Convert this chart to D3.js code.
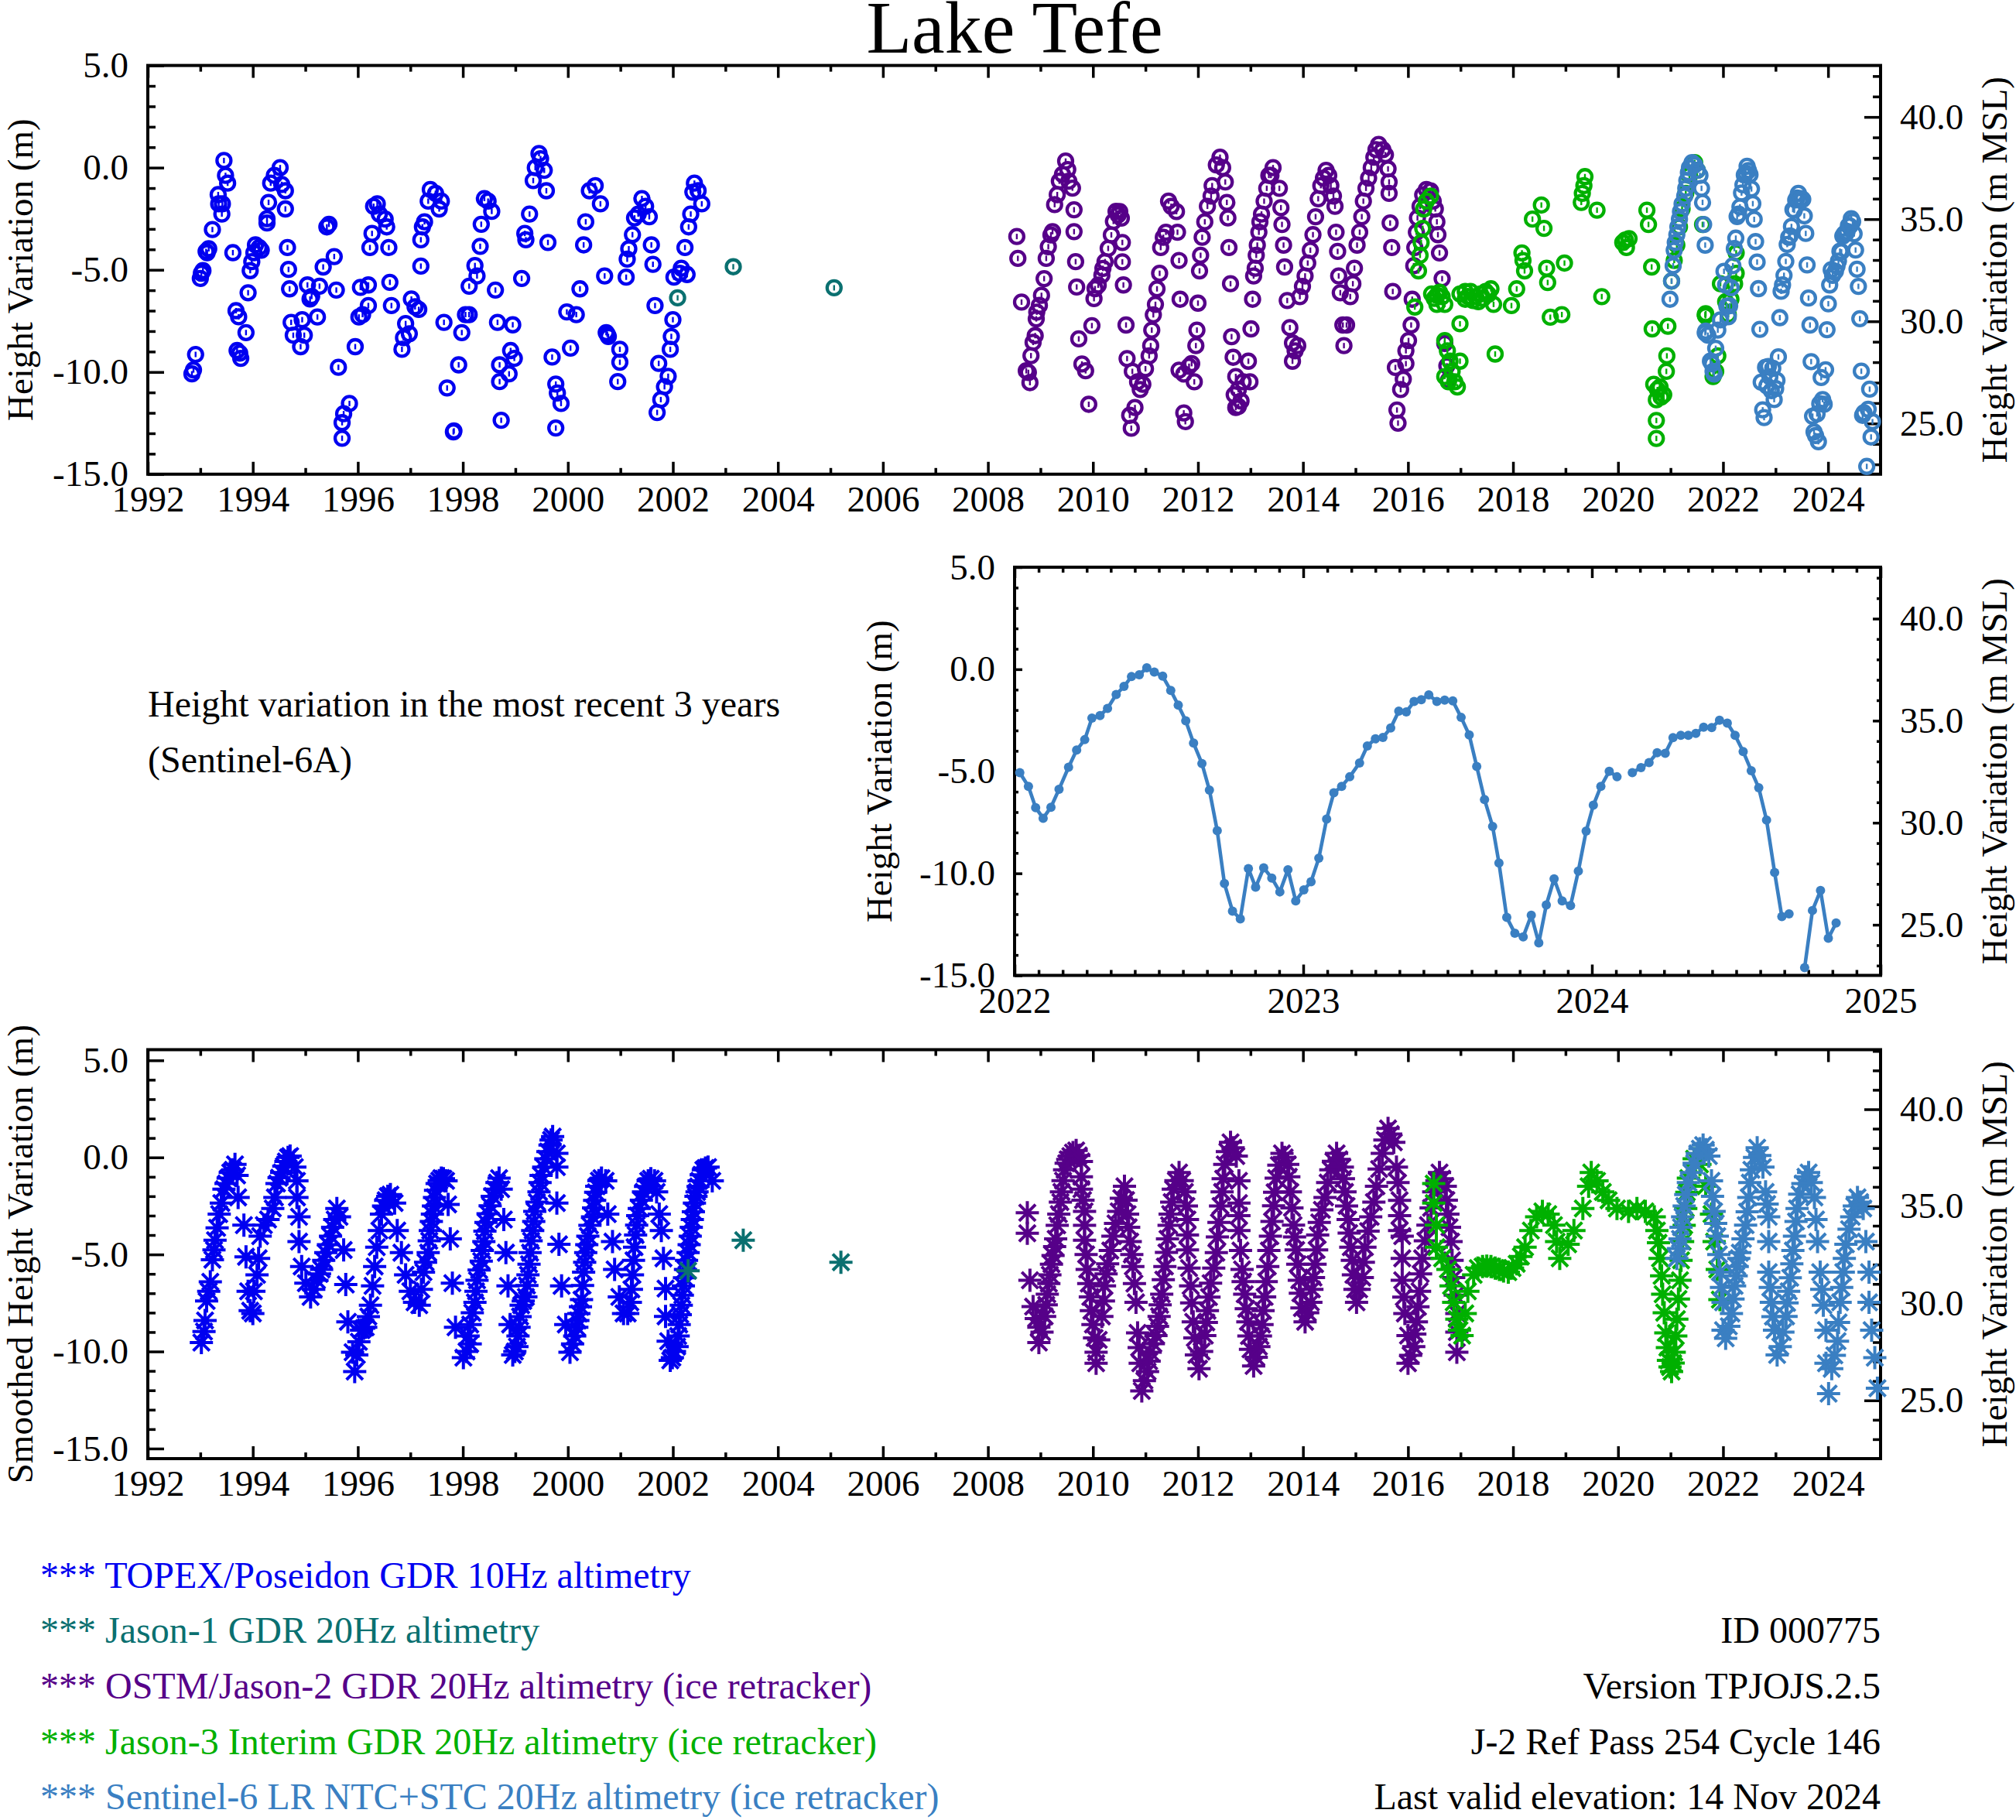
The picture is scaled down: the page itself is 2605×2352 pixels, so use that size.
<!DOCTYPE html>
<html><head><meta charset="utf-8">
<script src="https://cdn.jsdelivr.net/npm/d3@7"></script>
<style>body{margin:0;background:#fff;}</style>
</head><body>
<svg id="c" width="2605" height="2352"></svg>
<script>
// ---------------- DATA ----------------
const topexRaw = [[1992.84,-10.09],[1992.87,-9.90],[1992.91,-9.14],[1993.00,-5.42],[1993.02,-5.17],[1993.05,-5.04],[1993.11,-4.10],[1993.13,-4.16],[1993.16,-3.97],[1993.23,-3.03],[1993.34,-1.32],[1993.35,-1.77],[1993.42,-1.77],[1993.41,-2.27],[1993.45,0.35],[1993.48,-0.38],[1993.52,-0.76],[1993.62,-4.16],[1993.68,-7.00],[1993.73,-7.30],[1993.87,-8.07],[1993.70,-8.95],[1993.75,-9.08],[1993.77,-9.33],[1993.91,-6.12],[1993.95,-5.04],[1993.98,-4.60],[1994.02,-4.16],[1994.05,-3.78],[1994.12,-3.91],[1994.16,-4.04],[1994.27,-2.71],[1994.30,-1.70],[1994.27,-2.50],[1994.34,-0.76],[1994.41,-0.38],[1994.52,0.00],[1994.55,-0.82],[1994.62,-1.13],[1994.62,-2.02],[1994.66,-3.91],[1994.68,-4.98],[1994.70,-5.93],[1994.73,-7.57],[1994.77,-8.20],[1994.91,-8.76],[1994.98,-8.20],[1994.94,-7.44],[1995.04,-5.74],[1995.09,-6.43],[1995.12,-6.30],[1995.23,-7.31],[1995.27,-5.80],[1995.34,-4.86],[1995.55,-4.35],[1995.59,-5.99],[1995.41,-2.90],[1995.45,-2.77],[1995.63,-9.77],[1995.70,-13.24],[1995.73,-12.04],[1995.84,-11.54],[1995.70,-12.48],[1995.95,-8.76],[1996.02,-7.31],[1996.09,-7.19],[1996.20,-6.75],[1996.05,-5.86],[1996.20,-5.74],[1996.23,-3.91],[1996.27,-3.22],[1996.30,-1.89],[1996.37,-1.77],[1996.41,-2.27],[1996.52,-2.52],[1996.55,-2.90],[1996.59,-3.91],[1996.61,-5.61],[1996.64,-6.75],[1996.84,-8.89],[1996.87,-8.32],[1996.91,-7.63],[1996.98,-8.13],[1997.02,-6.43],[1997.09,-6.81],[1997.16,-6.94],[1997.20,-3.53],[1997.23,-2.90],[1997.27,-2.65],[1997.34,-1.64],[1997.38,-1.07],[1997.48,-1.26],[1997.55,-2.02],[1997.59,-1.64],[1997.20,-4.82],[1997.64,-7.57],[1997.70,-10.78],[1997.82,-12.93],[1997.83,-12.88],[1997.92,-9.65],[1997.98,-8.07],[1998.05,-7.19],[1998.12,-7.19],[1998.12,-5.80],[1998.23,-4.79],[1998.27,-5.30],[1998.33,-3.85],[1998.35,-2.77],[1998.41,-1.51],[1998.48,-1.64],[1998.55,-2.14],[1998.62,-5.99],[1998.66,-7.57],[1998.95,-7.69],[1998.70,-9.65],[1998.70,-10.47],[1998.88,-10.09],[1998.91,-8.95],[1998.98,-9.33],[1998.73,-12.36],[1999.12,-5.42],[1999.20,-3.53],[1999.27,-2.27],[1999.18,-3.22],[1999.34,-0.63],[1999.38,0.00],[1999.45,0.69],[1999.48,0.44],[1999.55,-0.13],[1999.59,-1.13],[1999.62,-3.66],[1999.70,-9.27],[1999.77,-10.59],[1999.80,-11.03],[1999.87,-11.54],[1999.77,-12.74],[1999.98,-7.06],[2000.05,-8.83],[2000.16,-7.19],[2000.23,-5.93],[2000.30,-3.78],[2000.34,-2.65],[2000.41,-1.13],[2000.52,-0.88],[2000.62,-1.77],[2000.70,-5.30],[2000.73,-8.07],[2000.75,-8.15],[2000.77,-8.26],[2000.95,-10.47],[2000.99,-9.52],[2000.99,-8.89],[2001.11,-5.36],[2001.13,-4.48],[2001.16,-3.97],[2001.23,-3.28],[2001.27,-2.46],[2001.34,-2.27],[2001.41,-1.51],[2001.48,-1.89],[2001.55,-2.40],[2001.59,-3.78],[2001.62,-4.73],[2001.66,-6.75],[2001.70,-11.98],[2001.77,-11.35],[2001.84,-10.72],[2001.91,-10.21],[2001.73,-9.58],[2001.95,-8.89],[2001.97,-8.26],[2002.00,-7.44],[2002.02,-5.36],[2002.13,-5.17],[2002.16,-4.92],[2002.23,-3.91],[2002.27,-5.23],[2002.30,-2.90],[2002.34,-2.27],[2002.38,-1.20],[2002.41,-0.76],[2002.48,-1.13],[2002.55,-1.77]];

const jason1Raw = [[2002.09,-6.37],[2003.15,-4.85],[2005.07,-5.88]];

const jason2Raw = [[2008.55,-3.37],[2008.57,-4.44],[2008.64,-6.58],[2008.73,-9.94],[2008.77,-10.02],[2008.80,-10.52],[2008.82,-9.20],[2008.86,-8.55],[2008.90,-8.22],[2008.92,-7.40],[2008.93,-7.07],[2008.98,-6.74],[2009.02,-6.25],[2009.07,-5.43],[2009.11,-4.44],[2009.15,-3.87],[2009.20,-3.29],[2009.23,-3.13],[2009.27,-1.81],[2009.32,-1.32],[2009.36,-0.66],[2009.42,-0.33],[2009.48,0.32],[2009.52,-0.09],[2009.54,-0.66],[2009.61,-1.00],[2009.64,-2.06],[2009.64,-3.13],[2009.67,-4.60],[2009.69,-5.84],[2009.73,-8.38],[2009.79,-9.61],[2009.86,-9.94],[2009.92,-11.58],[2009.98,-7.73],[2010.02,-6.41],[2010.04,-5.92],[2010.10,-5.75],[2010.17,-5.26],[2010.19,-4.93],[2010.23,-4.60],[2010.29,-3.95],[2010.35,-3.29],[2010.39,-2.63],[2010.44,-2.14],[2010.48,-2.31],[2010.54,-2.47],[2010.51,-2.15],[2010.56,-3.66],[2010.56,-4.61],[2010.58,-5.74],[2010.63,-7.70],[2010.65,-9.34],[2010.75,-9.97],[2010.85,-10.48],[2010.90,-10.86],[2010.95,-10.60],[2010.80,-11.74],[2010.70,-12.12],[2010.73,-12.75],[2011.00,-9.84],[2011.07,-9.21],[2011.10,-8.71],[2011.12,-7.95],[2011.15,-7.20],[2011.19,-6.69],[2011.22,-5.93],[2011.27,-5.17],[2011.29,-3.91],[2011.34,-3.41],[2011.39,-3.16],[2011.44,-1.64],[2011.49,-1.89],[2011.59,-2.15],[2011.61,-3.16],[2011.64,-4.54],[2011.66,-6.44],[2011.64,-9.91],[2011.73,-10.10],[2011.83,-9.72],[2011.88,-9.59],[2011.93,-10.48],[2011.98,-7.95],[2012.00,-6.63],[2011.96,-8.71],[2011.73,-12.00],[2011.76,-12.43],[2012.03,-5.05],[2012.05,-4.29],[2012.08,-3.41],[2012.13,-2.65],[2012.18,-1.89],[2012.25,-1.39],[2012.27,-0.88],[2012.35,0.13],[2012.42,0.51],[2012.47,0.00],[2012.52,-0.70],[2012.55,-1.70],[2012.57,-2.46],[2012.59,-3.91],[2012.62,-5.68],[2012.64,-8.27],[2012.67,-9.28],[2012.72,-10.22],[2012.77,-10.86],[2012.69,-11.11],[2012.72,-11.74],[2012.82,-11.42],[2012.86,-10.48],[2012.96,-9.47],[2012.99,-10.48],[2012.77,-11.68],[2013.01,-7.89],[2013.04,-6.44],[2013.06,-5.30],[2013.09,-4.92],[2013.11,-4.29],[2013.13,-3.79],[2013.16,-3.16],[2013.18,-2.65],[2013.21,-2.27],[2013.26,-1.64],[2013.31,-1.01],[2013.35,-0.38],[2013.43,0.00],[2013.39,-0.38],[2013.55,-1.01],[2013.58,-1.96],[2013.60,-2.78],[2013.63,-3.79],[2013.65,-4.86],[2013.70,-6.50],[2013.75,-7.83],[2013.80,-8.58],[2013.85,-8.96],[2013.80,-9.47],[2013.90,-8.71],[2013.94,-6.31],[2013.99,-5.81],[2014.04,-5.30],[2014.09,-4.67],[2014.14,-4.04],[2014.19,-3.28],[2014.24,-2.40],[2014.29,-1.52],[2014.34,-0.88],[2014.39,-0.51],[2014.44,-0.13],[2014.49,-0.38],[2014.53,-0.88],[2014.58,-1.39],[2014.61,-1.89],[2014.63,-3.16],[2014.66,-4.10],[2014.68,-5.30],[2014.71,-6.12],[2014.76,-7.70],[2014.83,-7.70],[2014.78,-8.71],[2014.90,-6.31],[2014.95,-5.68],[2014.98,-4.92],[2015.03,-3.79],[2015.08,-3.16],[2015.12,-2.40],[2015.15,-1.64],[2015.20,-1.01],[2015.25,-0.51],[2015.30,0.00],[2015.35,0.51],[2015.39,0.88],[2015.44,1.14],[2015.52,0.88],[2015.57,0.63],[2015.62,-0.06],[2015.64,-0.70],[2015.64,-1.26],[2015.66,-2.71],[2015.69,-3.91],[2015.71,-6.06],[2015.76,-9.78],[2015.79,-11.86],[2015.81,-12.50],[2015.86,-10.86],[2015.91,-10.35],[2015.96,-9.59],[2015.96,-8.96],[2016.01,-8.46],[2016.06,-7.70],[2016.08,-6.44],[2016.11,-4.80],[2016.13,-3.91],[2016.16,-3.16],[2016.18,-2.46],[2016.23,-1.89],[2016.28,-1.33],[2016.35,-1.07],[2016.43,-1.14],[2016.48,-1.64],[2016.52,-2.02],[2016.55,-2.65],[2016.57,-3.28],[2016.60,-4.17],[2016.65,-5.43],[2016.70,-8.60],[2016.74,-9.70],[2016.77,-10.40]];

const jason3Raw = [[2016.13,-6.82],[2016.20,-5.05],[2016.23,-4.29],[2016.25,-3.66],[2016.28,-2.97],[2016.30,-2.02],[2016.35,-1.64],[2016.43,-1.39],[2016.45,-6.18],[2016.55,-6.25],[2016.65,-6.31],[2016.70,-6.69],[2016.55,-6.69],[2016.50,-6.40],[2016.60,-6.10],[2016.70,-8.46],[2016.75,-8.96],[2016.80,-9.47],[2016.84,-9.97],[2016.89,-10.48],[2016.94,-10.73],[2016.70,-10.22],[2016.77,-10.48],[2016.99,-9.47],[2016.99,-7.64],[2016.99,-6.18],[2017.09,-6.44],[2017.19,-6.06],[2017.29,-6.31],[2017.38,-6.18],[2017.48,-6.06],[2017.58,-5.93],[2017.63,-6.69],[2017.34,-6.56],[2017.09,-6.06],[2017.14,-6.30],[2017.24,-6.50],[2017.43,-6.40],[2017.53,-6.20],[2017.66,-9.12],[2017.97,-6.75],[2018.07,-5.93],[2018.17,-4.17],[2018.19,-4.54],[2018.22,-5.05],[2018.37,-2.52],[2018.54,-1.83],[2018.59,-2.97],[2018.64,-4.92],[2018.66,-5.62],[2018.71,-7.32],[2018.93,-7.19],[2018.98,-4.67],[2019.30,-1.70],[2019.32,-1.26],[2019.35,-0.88],[2019.37,-0.44],[2019.60,-2.08],[2019.69,-6.31],[2020.09,-3.66],[2020.14,-3.54],[2020.21,-3.47],[2020.16,-3.91],[2020.55,-2.08],[2020.58,-2.78],[2020.64,-4.86],[2020.65,-7.89],[2020.95,-7.76],[2020.68,-10.60],[2020.75,-10.86],[2020.82,-11.23],[2020.87,-11.11],[2020.80,-10.73],[2020.73,-11.36],[2020.73,-12.37],[2020.73,-13.25],[2020.92,-9.97],[2020.93,-9.21],[2021.02,-5.55],[2021.07,-4.54],[2021.12,-3.79],[2021.17,-2.90],[2021.22,-2.02],[2021.29,-1.26],[2021.36,-0.38],[2021.46,0.25],[2021.51,-0.13],[2021.61,-2.78],[2021.66,-7.19],[2021.665,-7.25],[2021.67,-7.15],[2021.81,-10.22],[2021.86,-9.97],[2021.90,-9.21],[2021.95,-5.68],[2022.05,-6.56],[2022.10,-7.19],[2022.15,-6.44],[2022.22,-5.68],[2022.25,-5.17],[2022.25,-4.17]];

const s6Early = [[2020.99,-6.44],[2021.02,-5.55],[2021.05,-4.80],[2021.07,-4.04],[2021.09,-3.66],[2021.12,-3.28],[2021.14,-2.90],[2021.17,-2.52],[2021.19,-2.15],[2021.22,-1.77],[2021.27,-1.39],[2021.29,-1.01],[2021.31,-0.63],[2021.34,-0.25],[2021.36,0.00],[2021.41,0.25],[2021.46,0.13],[2021.51,-0.13],[2021.56,-0.38],[2021.59,-1.01],[2021.61,-1.70],[2021.63,-2.78],[2021.66,-3.79],[2021.66,-8.08],[2021.67,-8.00],[2021.71,-8.20],[2021.76,-9.47],[2021.79,-9.60],[2021.81,-9.97],[2021.83,-10.10],[2021.86,-8.84],[2021.90,-7.95],[2021.95,-7.45]];

const s6Recent = [[2022.018,-5.07],[2022.048,-5.74],[2022.073,-6.78],[2022.099,-7.30],[2022.126,-6.76],[2022.154,-5.88],[2022.187,-4.80],[2022.215,-3.96],[2022.243,-3.45],[2022.268,-2.39],[2022.296,-2.27],[2022.322,-1.92],[2022.352,-1.24],[2022.379,-0.84],[2022.405,-0.36],[2022.432,-0.27],[2022.458,0.07],[2022.484,-0.14],[2022.513,-0.34],[2022.541,-1.04],[2022.567,-1.76],[2022.593,-2.53],[2022.620,-3.62],[2022.649,-4.62],[2022.675,-5.92],[2022.702,-7.91],[2022.727,-10.50],[2022.755,-11.85],[2022.782,-12.23],[2022.810,-9.77],[2022.835,-10.68],[2022.863,-9.73],[2022.891,-10.23],[2022.919,-10.91],[2022.947,-9.82],[2022.974,-11.35],[2023.002,-10.81],[2023.027,-10.41],[2023.054,-9.26],[2023.081,-7.34],[2023.106,-6.05],[2023.133,-5.74],[2023.161,-5.27],[2023.195,-4.59],[2023.222,-3.76],[2023.250,-3.41],[2023.276,-3.34],[2023.303,-2.88],[2023.331,-2.05],[2023.357,-2.09],[2023.384,-1.58],[2023.409,-1.49],[2023.435,-1.26],[2023.463,-1.58],[2023.490,-1.51],[2023.518,-1.55],[2023.547,-2.36],[2023.575,-3.22],[2023.601,-4.76],[2023.628,-6.38],[2023.656,-7.70],[2023.678,-9.49],[2023.705,-12.16],[2023.733,-12.93],[2023.762,-13.11],[2023.790,-12.05],[2023.816,-13.41],[2023.842,-11.55],[2023.869,-10.27],[2023.897,-11.35],[2023.926,-11.58],[2023.953,-9.89],[2023.980,-7.93],[2024.005,-6.66],[2024.031,-5.74],[2024.060,-5.00],[2024.087,-5.27],[2024.140,-5.07],[2024.170,-4.82],[2024.198,-4.57],[2024.226,-4.09],[2024.254,-4.12],[2024.281,-3.35],[2024.308,-3.24],[2024.334,-3.24],[2024.360,-3.14],[2024.387,-2.84],[2024.415,-2.86],[2024.442,-2.50],[2024.469,-2.64],[2024.496,-3.24],[2024.524,-4.03],[2024.552,-4.97],[2024.578,-5.81],[2024.605,-7.39],[2024.633,-9.96],[2024.658,-12.12],[2024.683,-11.99],[2024.737,-14.62],[2024.764,-11.82],[2024.792,-10.84],[2024.819,-13.18],[2024.846,-12.43]];

const topexSmooth = [[1993.02,-9.54],[1993.07,-8.97],[1993.09,-8.40],[1993.12,-7.40],[1993.16,-6.90],[1993.19,-6.41],[1993.23,-5.27],[1993.26,-4.77],[1993.28,-4.27],[1993.32,-3.63],[1993.36,-2.92],[1993.40,-2.35],[1993.45,-1.64],[1993.49,-1.35],[1993.53,-1.07],[1993.57,-0.78],[1993.62,-0.64],[1993.66,-0.36],[1993.70,-0.93],[1993.72,-2.06],[1993.83,-3.49],[1993.87,-5.12],[1993.91,-6.90],[1993.95,-7.90],[1994.00,-8.04],[1994.02,-6.90],[1994.08,-6.05],[1994.11,-5.20],[1994.14,-4.06],[1994.21,-3.49],[1994.29,-3.20],[1994.38,-2.63],[1994.42,-2.06],[1994.46,-1.35],[1994.50,-1.05],[1994.55,-0.78],[1994.59,-0.45],[1994.63,-0.21],[1994.67,0.00],[1994.71,0.07],[1994.80,-0.50],[1994.84,-1.21],[1994.84,-2.06],[1994.88,-3.06],[1994.88,-4.34],[1994.93,-5.62],[1995.01,-6.48],[1995.10,-7.19],[1995.16,-6.80],[1995.22,-6.33],[1995.27,-6.00],[1995.31,-5.77],[1995.35,-5.30],[1995.39,-4.91],[1995.44,-4.50],[1995.48,-4.06],[1995.52,-3.60],[1995.56,-3.20],[1995.60,-2.63],[1995.65,-3.06],[1995.73,-4.77],[1995.77,-6.55],[1995.81,-8.47],[1995.90,-10.04],[1995.94,-11.03],[1995.98,-10.18],[1996.02,-9.50],[1996.07,-8.90],[1996.11,-8.80],[1996.15,-8.75],[1996.20,-8.20],[1996.24,-7.62],[1996.28,-6.62],[1996.32,-5.62],[1996.36,-4.63],[1996.41,-3.77],[1996.45,-2.92],[1996.49,-2.50],[1996.53,-2.21],[1996.57,-2.00],[1996.62,-1.92],[1996.70,-2.35],[1996.75,-3.77],[1996.83,-4.91],[1996.91,-6.05],[1997.00,-6.90],[1997.08,-7.47],[1997.17,-7.62],[1997.21,-6.80],[1997.25,-5.91],[1997.29,-5.40],[1997.34,-4.91],[1997.36,-4.30],[1997.38,-3.77],[1997.40,-3.30],[1997.42,-2.92],[1997.44,-2.50],[1997.46,-2.06],[1997.48,-1.70],[1997.51,-1.35],[1997.55,-1.20],[1997.59,-1.07],[1997.63,-1.10],[1997.68,-1.21],[1997.72,-2.42],[1997.76,-4.20],[1997.80,-6.48],[1997.86,-8.75],[1998.01,-10.32],[1998.07,-10.00],[1998.10,-9.20],[1998.14,-9.61],[1998.14,-8.61],[1998.18,-8.00],[1998.23,-7.47],[1998.25,-6.90],[1998.27,-6.33],[1998.31,-5.80],[1998.35,-5.34],[1998.37,-4.80],[1998.40,-4.34],[1998.42,-3.80],[1998.44,-3.35],[1998.48,-2.90],[1998.52,-2.49],[1998.56,-2.00],[1998.61,-1.64],[1998.65,-1.30],[1998.69,-1.07],[1998.73,-1.64],[1998.78,-3.20],[1998.82,-4.91],[1998.86,-6.62],[1998.90,-8.61],[1998.95,-10.18],[1998.99,-10.00],[1999.03,-9.75],[1999.05,-9.20],[1999.07,-8.75],[1999.09,-8.20],[1999.11,-7.62],[1999.15,-7.40],[1999.20,-7.19],[1999.22,-6.60],[1999.24,-6.05],[1999.26,-5.50],[1999.28,-4.91],[1999.30,-4.30],[1999.33,-3.77],[1999.35,-3.30],[1999.37,-2.78],[1999.41,-2.30],[1999.45,-1.78],[1999.47,-1.30],[1999.49,-0.93],[1999.54,-0.50],[1999.58,-0.07],[1999.62,0.30],[1999.66,0.64],[1999.68,0.90],[1999.71,1.07],[1999.79,0.21],[1999.79,-0.50],[1999.79,-2.35],[1999.83,-4.48],[1999.88,-6.62],[1999.96,-8.61],[2000.04,-10.04],[2000.09,-9.61],[2000.13,-9.20],[2000.17,-8.75],[2000.19,-8.40],[2000.21,-8.04],[2000.24,-7.70],[2000.26,-7.33],[2000.28,-6.60],[2000.30,-5.91],[2000.32,-5.40],[2000.34,-4.91],[2000.36,-4.50],[2000.38,-4.06],[2000.42,-3.50],[2000.47,-3.06],[2000.49,-2.60],[2000.51,-2.21],[2000.53,-1.80],[2000.55,-1.49],[2000.59,-1.20],[2000.64,-1.07],[2000.72,-1.21],[2000.76,-2.92],[2000.85,-4.34],[2000.89,-5.77],[2000.98,-7.19],[2001.06,-8.04],[2001.14,-8.04],[2001.19,-7.47],[2001.21,-6.80],[2001.23,-6.05],[2001.25,-5.30],[2001.27,-4.63],[2001.29,-4.00],[2001.31,-3.49],[2001.33,-3.00],[2001.36,-2.63],[2001.40,-2.20],[2001.44,-1.78],[2001.48,-1.50],[2001.53,-1.21],[2001.58,-1.10],[2001.65,-1.21],[2001.69,-1.78],[2001.74,-2.92],[2001.78,-3.77],[2001.82,-5.20],[2001.86,-6.76],[2001.86,-8.19],[2001.91,-9.47],[2001.95,-10.46],[2001.99,-10.32],[2002.03,-10.00],[2002.08,-9.75],[2002.10,-9.20],[2002.12,-8.61],[2002.14,-8.10],[2002.16,-7.62],[2002.18,-7.10],[2002.20,-6.62],[2002.22,-6.20],[2002.24,-5.77],[2002.26,-5.30],[2002.29,-4.91],[2002.31,-4.50],[2002.33,-4.06],[2002.35,-3.60],[2002.37,-3.20],[2002.39,-2.80],[2002.41,-2.35],[2002.44,-2.00],[2002.46,-1.78],[2002.48,-1.50],[2002.50,-1.21],[2002.54,-0.90],[2002.58,-0.64],[2002.62,-0.55],[2002.67,-0.50],[2002.75,-1.21]];

const jason1Smooth = [[2002.29,-5.84],[2003.34,-4.27],[2005.20,-5.40]];

const jason2Smooth = [[2008.75,-2.85],[2008.75,-3.91],[2008.80,-6.33],[2008.86,-7.69],[2008.92,-8.30],[2008.97,-8.75],[2008.97,-9.54],[2009.03,-9.00],[2009.08,-8.19],[2009.11,-7.60],[2009.13,-7.05],[2009.16,-6.50],[2009.18,-6.05],[2009.21,-5.50],[2009.24,-5.05],[2009.27,-4.60],[2009.29,-4.20],[2009.32,-3.50],[2009.35,-2.92],[2009.38,-2.30],[2009.40,-1.78],[2009.43,-1.20],[2009.46,-0.64],[2009.49,-0.30],[2009.52,-0.10],[2009.57,0.07],[2009.62,0.25],[2009.68,0.36],[2009.73,0.10],[2009.78,-0.21],[2009.78,-1.00],[2009.78,-1.64],[2009.81,-2.20],[2009.84,-2.78],[2009.84,-3.50],[2009.84,-4.27],[2009.87,-5.00],[2009.89,-5.77],[2009.92,-6.50],[2009.95,-7.19],[2009.97,-7.90],[2010.00,-8.61],[2010.03,-9.30],[2010.06,-10.04],[2010.06,-10.61],[2010.11,-9.40],[2010.17,-8.19],[2010.20,-7.40],[2010.22,-6.62],[2010.25,-6.00],[2010.28,-5.48],[2010.33,-4.80],[2010.38,-4.06],[2010.43,-3.40],[2010.49,-2.78],[2010.54,-2.10],[2010.60,-1.49],[2010.63,-2.20],[2010.66,-2.92],[2010.68,-3.60],[2010.71,-4.34],[2010.74,-5.00],[2010.76,-5.62],[2010.79,-6.50],[2010.82,-7.47],[2010.85,-9.04],[2010.88,-9.80],[2010.90,-10.61],[2010.93,-12.03],[2010.98,-11.50],[2011.04,-11.03],[2011.07,-10.50],[2011.09,-10.04],[2011.15,-9.60],[2011.20,-9.18],[2011.23,-8.70],[2011.26,-8.19],[2011.28,-7.60],[2011.31,-7.05],[2011.34,-6.30],[2011.37,-5.62],[2011.40,-4.90],[2011.42,-4.20],[2011.45,-3.50],[2011.47,-2.92],[2011.50,-2.30],[2011.53,-1.64],[2011.58,-1.20],[2011.64,-0.78],[2011.70,-1.20],[2011.75,-1.78],[2011.78,-2.50],[2011.80,-3.20],[2011.80,-4.00],[2011.80,-4.77],[2011.83,-5.70],[2011.86,-6.62],[2011.88,-7.50],[2011.91,-8.47],[2011.94,-9.30],[2011.97,-10.18],[2012.02,-10.89],[2012.07,-10.00],[2012.13,-9.18],[2012.16,-8.50],[2012.18,-7.90],[2012.21,-7.20],[2012.24,-6.48],[2012.30,-5.70],[2012.35,-4.91],[2012.37,-4.10],[2012.40,-3.35],[2012.43,-2.50],[2012.46,-1.78],[2012.48,-1.10],[2012.51,-0.36],[2012.56,0.30],[2012.62,0.78],[2012.67,0.50],[2012.73,0.07],[2012.78,-1.21],[2012.78,-2.35],[2012.78,-3.00],[2012.78,-3.77],[2012.81,-4.80],[2012.84,-5.77],[2012.86,-6.40],[2012.89,-7.05],[2012.92,-7.80],[2012.95,-8.47],[2012.97,-9.20],[2013.00,-9.89],[2013.06,-10.75],[2013.11,-10.30],[2013.16,-9.75],[2013.19,-9.20],[2013.22,-8.61],[2013.24,-7.90],[2013.27,-7.19],[2013.30,-6.40],[2013.33,-5.62],[2013.35,-4.80],[2013.38,-4.06],[2013.41,-3.30],[2013.44,-2.49],[2013.46,-1.80],[2013.49,-1.07],[2013.54,-0.40],[2013.60,0.21],[2013.65,0.00],[2013.71,-0.36],[2013.73,-1.00],[2013.76,-1.78],[2013.79,-2.60],[2013.82,-3.49],[2013.84,-4.10],[2013.87,-4.77],[2013.90,-5.50],[2013.93,-6.33],[2013.95,-7.00],[2013.98,-7.76],[2014.04,-8.47],[2014.09,-8.00],[2014.15,-7.47],[2014.17,-6.80],[2014.20,-6.19],[2014.23,-5.50],[2014.26,-4.77],[2014.28,-4.00],[2014.31,-3.35],[2014.36,-2.70],[2014.42,-2.06],[2014.47,-1.30],[2014.53,-0.64],[2014.58,-0.20],[2014.64,0.21],[2014.69,-0.10],[2014.75,-0.50],[2014.77,-1.10],[2014.80,-1.78],[2014.83,-2.50],[2014.86,-3.20],[2014.88,-3.90],[2014.91,-4.63],[2014.94,-5.30],[2014.96,-6.05],[2014.99,-6.80],[2015.02,-7.47],[2015.07,-6.80],[2015.13,-6.19],[2015.15,-5.40],[2015.18,-4.63],[2015.24,-3.80],[2015.29,-3.06],[2015.35,-2.30],[2015.40,-1.49],[2015.45,-0.60],[2015.51,0.21],[2015.56,0.90],[2015.62,1.49],[2015.67,1.20],[2015.73,0.78],[2015.78,-0.50],[2015.81,-1.30],[2015.84,-2.21],[2015.84,-3.00],[2015.84,-3.77],[2015.89,-4.06],[2015.89,-5.20],[2015.89,-6.33],[2015.92,-7.20],[2015.94,-8.04],[2016.00,-9.18],[2016.00,-10.61],[2016.05,-10.20],[2016.11,-9.75],[2016.13,-9.10],[2016.16,-8.47],[2016.19,-7.70],[2016.22,-6.90],[2016.24,-6.00],[2016.27,-5.20],[2016.33,-4.30],[2016.38,-3.49],[2016.44,-2.60],[2016.49,-1.78],[2016.55,-1.20],[2016.60,-0.78],[2016.65,-1.10],[2016.71,-1.49],[2016.73,-2.20],[2016.76,-2.92],[2016.79,-3.60],[2016.82,-4.34],[2016.84,-5.30],[2016.87,-6.19],[2016.90,-7.10],[2016.93,-8.04],[2016.93,-9.00],[2016.93,-10.04]];

const jason3Smooth = [[2016.49,-1.35],[2016.49,-2.35],[2016.54,-3.49],[2016.54,-4.63],[2016.65,-5.20],[2016.76,-5.77],[2016.82,-6.62],[2016.87,-7.47],[2016.93,-8.33],[2016.98,-8.90],[2017.03,-9.18],[2017.09,-8.04],[2017.14,-6.90],[2017.25,-6.05],[2017.33,-5.70],[2017.42,-5.62],[2017.50,-5.60],[2017.58,-5.62],[2017.66,-5.70],[2017.74,-5.77],[2017.82,-5.85],[2017.91,-5.91],[2017.99,-5.70],[2018.07,-5.48],[2018.15,-5.10],[2018.23,-4.63],[2018.34,-3.77],[2018.45,-3.06],[2018.56,-2.78],[2018.67,-2.92],[2018.78,-3.49],[2018.83,-4.34],[2018.89,-5.20],[2019.05,-4.48],[2019.16,-3.77],[2019.33,-2.63],[2019.44,-1.49],[2019.49,-0.78],[2019.60,-1.21],[2019.71,-1.78],[2019.82,-2.21],[2019.98,-2.63],[2020.20,-2.78],[2020.36,-2.63],[2020.52,-2.78],[2020.69,-3.06],[2020.74,-3.77],[2020.77,-4.40],[2020.80,-5.20],[2020.83,-6.10],[2020.85,-7.05],[2020.88,-8.00],[2020.91,-9.04],[2020.94,-9.80],[2020.96,-10.46],[2020.99,-10.80],[2021.02,-11.03],[2021.05,-10.60],[2021.07,-10.04],[2021.10,-9.20],[2021.12,-8.33],[2021.15,-7.30],[2021.18,-6.33],[2021.20,-5.30],[2021.23,-4.34],[2021.26,-3.50],[2021.29,-2.63],[2021.31,-1.80],[2021.34,-1.07],[2021.45,-0.07],[2021.56,-0.36],[2021.67,-1.49],[2021.78,-2.92],[2021.83,-4.34],[2021.89,-5.77],[2021.94,-7.33]];

const s6Smooth = [[2021.12,-5.20],[2021.15,-4.70],[2021.18,-4.20],[2021.20,-3.60],[2021.23,-3.06],[2021.26,-2.50],[2021.29,-1.92],[2021.34,-1.30],[2021.40,-0.78],[2021.45,-0.30],[2021.51,0.21],[2021.56,0.45],[2021.62,0.64],[2021.67,0.40],[2021.73,0.07],[2021.78,-1.21],[2021.80,-2.00],[2021.83,-2.78],[2021.86,-3.40],[2021.89,-4.06],[2021.92,-5.00],[2021.94,-5.91],[2021.97,-6.70],[2022.00,-7.47],[2022.00,-8.90],[2022.05,-9.32],[2022.11,-8.70],[2022.16,-8.04],[2022.19,-7.30],[2022.22,-6.62],[2022.25,-6.10],[2022.27,-5.62],[2022.30,-5.20],[2022.32,-4.91],[2022.38,-4.20],[2022.43,-3.49],[2022.46,-2.80],[2022.49,-2.06],[2022.51,-1.30],[2022.54,-0.64],[2022.60,0.00],[2022.65,0.50],[2022.70,0.10],[2022.76,-0.50],[2022.81,-1.78],[2022.84,-2.40],[2022.87,-3.06],[2022.87,-4.34],[2022.87,-5.91],[2022.90,-6.70],[2022.92,-7.47],[2022.95,-8.20],[2022.98,-8.90],[2023.03,-10.18],[2023.09,-9.75],[2023.14,-9.00],[2023.20,-8.19],[2023.22,-7.50],[2023.25,-6.90],[2023.28,-6.20],[2023.31,-5.48],[2023.33,-4.80],[2023.36,-4.06],[2023.39,-3.30],[2023.41,-2.63],[2023.46,-1.90],[2023.52,-1.35],[2023.57,-1.00],[2023.63,-0.78],[2023.68,-1.30],[2023.74,-2.06],[2023.77,-3.20],[2023.80,-4.34],[2023.85,-5.91],[2023.88,-6.80],[2023.91,-7.62],[2023.96,-8.90],[2023.96,-10.61],[2024.01,-12.17],[2024.07,-10.89],[2024.12,-10.20],[2024.18,-9.47],[2024.20,-8.50],[2024.23,-7.47],[2024.26,-6.70],[2024.29,-5.91],[2024.31,-5.20],[2024.34,-4.48],[2024.40,-3.70],[2024.45,-3.06],[2024.50,-2.50],[2024.56,-2.06],[2024.61,-2.30],[2024.67,-2.63],[2024.72,-4.34],[2024.78,-5.91],[2024.78,-7.47],[2024.83,-8.90],[2024.89,-10.32],[2024.94,-11.89]];

const mslOffset = 37.52;
const yTickLabels = [-15, -10, -5, 0, 5];
const yRightTickLabels = [25, 30, 35, 40];
const longYears = d3.range(1992, 2025, 2);
const recentYears = [2022, 2023, 2024, 2025];

const legendLabels = [
  "*** TOPEX/Poseidon GDR 10Hz altimetry",
  "*** Jason-1 GDR 20Hz altimetry",
  "*** OSTM/Jason-2 GDR 20Hz altimetry (ice retracker)",
  "*** Jason-3 Interim GDR 20Hz altimetry (ice retracker)",
  "*** Sentinel-6 LR NTC+STC 20Hz altimetry (ice retracker)"
];
const infoLines = ["ID 000775", "Version TPJOJS.2.5", "J-2 Ref Pass 254 Cycle 146", "Last valid elevation: 14 Nov 2024"];

// ---------------- STYLE ----------------
const FONT = '"Liberation Serif","Times New Roman",serif';
const COL = {topex:"#0000f0", jason1:"#0a7070", jason2:"#560089", jason3:"#00b000", s6:"#3a7fc2"};
const FS = 47, FT = 48;

const svg = d3.select("#c");
svg.append("rect").attr("width",2605).attr("height",2352).attr("fill","#fff");

function styleAxis(a){
  a.select(".domain").remove();
  a.selectAll("line").attr("stroke","#000").attr("stroke-width",3.5);
  a.attr("font-family", FONT).attr("font-size", FS);
  a.selectAll("text").attr("fill","#000");
  return a;
}

function buildPanel(o){
  const g = svg.append("g");
  const [x0,x1] = o.x.range(), [yb,yt] = o.y.range();
  const fmt1 = d => d.toFixed(1);
  styleAxis(g.append("g").attr("transform",`translate(0,${yb})`)
    .call(d3.axisBottom(o.x).tickValues(o.xMajor).tickSize(-o.xMaj).tickPadding(15).tickFormat(d=>String(d))));
  styleAxis(g.append("g").attr("transform",`translate(0,${yb})`)
    .call(d3.axisBottom(o.x).tickValues(o.xMinor).tickSize(-o.xMin).tickFormat("")));
  styleAxis(g.append("g").attr("transform",`translate(0,${yt})`)
    .call(d3.axisTop(o.x).tickValues(o.xMajor).tickSize(-o.xMaj).tickFormat("")));
  styleAxis(g.append("g").attr("transform",`translate(0,${yt})`)
    .call(d3.axisTop(o.x).tickValues(o.xMinor).tickSize(-o.xMin).tickFormat("")));
  const yMinor = d3.range(Math.ceil(o.y.domain()[0]), Math.floor(o.y.domain()[1])+1).filter(v=>v%5!==0);
  styleAxis(g.append("g").attr("transform",`translate(${x0},0)`)
    .call(d3.axisLeft(o.y).tickValues(yTickLabels).tickSize(-o.yMaj).tickPadding(25).tickFormat(fmt1)));
  styleAxis(g.append("g").attr("transform",`translate(${x0},0)`)
    .call(d3.axisLeft(o.y).tickValues(yMinor).tickSize(-o.yMin).tickFormat("")));
  const d = o.yR.domain();
  const yRMinor = d3.range(Math.ceil(d[0]+0.01), Math.floor(d[1])+1).filter(v=>v%5!==0);
  styleAxis(g.append("g").attr("transform",`translate(${x1},0)`)
    .call(d3.axisRight(o.yR).tickValues(yRightTickLabels).tickSize(-o.yMaj).tickPadding(25).tickFormat(fmt1)));
  styleAxis(g.append("g").attr("transform",`translate(${x1},0)`)
    .call(d3.axisRight(o.yR).tickValues(yRMinor).tickSize(-o.yMin).tickFormat("")));
  g.append("rect").attr("x",x0).attr("y",yt).attr("width",x1-x0).attr("height",yb-yt)
    .attr("fill","none").attr("stroke","#000").attr("stroke-width",4);
  const cy = (yb+yt)/2;
  g.append("text").attr("transform",`translate(${o.leftTitleX},${cy}) rotate(-90)`)
    .attr("text-anchor","middle").attr("font-family",FONT).attr("font-size",FS).text(o.leftTitle);
  g.append("text").attr("transform",`translate(2593,${cy}) rotate(-90)`)
    .attr("text-anchor","middle").attr("font-family",FONT).attr("font-size",FS).text("Height Variation (m MSL)");
  return g;
}

// ---------------- SCALES ----------------
const xLong = d3.scaleLinear().domain([1992, 2025]).range([191, 2430]);
const yTop = d3.scaleLinear().domain([-15, 5]).range([612.8, 84.6]);
const yTopR = d3.scaleLinear().domain([-15+mslOffset, 5+mslOffset]).range([612.8, 84.6]);
const xMid = d3.scaleLinear().domain([2022, 2025]).range([1311, 2430]);
const yMid = d3.scaleLinear().domain([-15, 5]).range([1260.5, 733]);
const yMidR = d3.scaleLinear().domain([-15+mslOffset, 5+mslOffset]).range([1260.5, 733]);
const yBot = d3.scaleLinear().domain([-15.52, 5.55]).range([1885, 1356.5]);
const yBotR = d3.scaleLinear().domain([-15.52+mslOffset, 5.55+mslOffset]).range([1885, 1356.5]);

const longMinor = d3.range(1993, 2025, 2);
const midMinor = d3.range(1, 36).filter(i=>i%12!==0).map(i=>2022+i/12);

buildPanel({x:xLong, y:yTop, yR:yTopR, xMajor:longYears, xMinor:longMinor, xMaj:16, xMin:8, yMaj:21, yMin:10, leftTitle:"Height Variation (m)", leftTitleX:42});
buildPanel({x:xMid, y:yMid, yR:yMidR, xMajor:recentYears, xMinor:midMinor, xMaj:14, xMin:7, yMaj:10, yMin:5, leftTitle:"Height Variation (m)", leftTitleX:1152});
buildPanel({x:xLong, y:yBot, yR:yBotR, xMajor:longYears, xMinor:longMinor, xMaj:16, xMin:8, yMaj:21, yMin:10, leftTitle:"Smoothed Height Variation (m)", leftTitleX:42});

// ---------------- MARKS ----------------
function circles(data, color, x, y){
  const g = svg.append("g").attr("stroke", color).attr("fill","none");
  const m = g.selectAll("g").data(data).join("g")
    .attr("transform", d=>`translate(${x(d[0])},${y(d[1])})`);
  m.append("circle").attr("r",9).attr("stroke-width",4.3);
  m.append("line").attr("y1",-3.5).attr("y2",3.5).attr("stroke-width",2.4);
}
const AR = 15, AB = AR*Math.SQRT1_2;
const starPath = `M${-AR},0H${AR}M0,${-AR}V${AR}M${-AB},${-AB}L${AB},${AB}M${-AB},${AB}L${AB},${-AB}`;
function stars(data, color, x, y){
  svg.append("g").selectAll("path").data(data).join("path")
    .attr("d", starPath).attr("stroke", color).attr("stroke-width",4).attr("fill","none")
    .attr("transform", d=>`translate(${x(d[0])},${y(d[1])})`);
}

circles(topexRaw, COL.topex, xLong, yTop);
circles(jason1Raw, COL.jason1, xLong, yTop);
circles(jason2Raw, COL.jason2, xLong, yTop);
circles(jason3Raw, COL.jason3, xLong, yTop);
circles(s6Early.concat(s6Recent), COL.s6, xLong, yTop);

const segs = [];
s6Recent.forEach((d,i)=>{
  if (i===0 || d[0]-s6Recent[i-1][0] > 0.04) segs.push([]);
  segs[segs.length-1].push(d);
});
const line = d3.line().x(d=>xMid(d[0])).y(d=>yMid(d[1]));
svg.append("g").selectAll("path").data(segs).join("path")
  .attr("d", line).attr("fill","none").attr("stroke",COL.s6).attr("stroke-width",4.6).attr("stroke-linejoin","round");
svg.append("g").selectAll("circle").data(s6Recent).join("circle")
  .attr("cx", d=>xMid(d[0])).attr("cy", d=>yMid(d[1])).attr("r",6).attr("fill",COL.s6);

stars(topexSmooth, COL.topex, xLong, yBot);
stars(jason1Smooth, COL.jason1, xLong, yBot);
stars(jason2Smooth, COL.jason2, xLong, yBot);
stars(jason3Smooth, COL.jason3, xLong, yBot);
stars(s6Smooth, COL.s6, xLong, yBot);

// ---------------- TEXT ----------------
svg.append("text").attr("x",1311).attr("y",68).attr("text-anchor","middle")
  .attr("font-family",FONT).attr("font-size",96).text("Lake Tefe");
svg.append("text").attr("x",191).attr("y",926).attr("font-family",FONT).attr("font-size",FT)
  .text("Height variation in the most recent 3 years");
svg.append("text").attr("x",191).attr("y",998).attr("font-family",FONT).attr("font-size",FT)
  .text("(Sentinel-6A)");

const legColors = [COL.topex, COL.jason1, COL.jason2, COL.jason3, COL.s6];
const rowY = [2052, 2123, 2195, 2267, 2338];
svg.append("g").selectAll("text").data(legendLabels).join("text")
  .attr("x",52).attr("y",(d,i)=>rowY[i]).attr("fill",(d,i)=>legColors[i])
  .attr("font-family",FONT).attr("font-size",FT).text(d=>d);
svg.append("g").selectAll("text").data(infoLines).join("text")
  .attr("x",2430).attr("y",(d,i)=>rowY[i+1]).attr("text-anchor","end")
  .attr("font-family",FONT).attr("font-size",FT).text(d=>d);
</script>
</body></html>
